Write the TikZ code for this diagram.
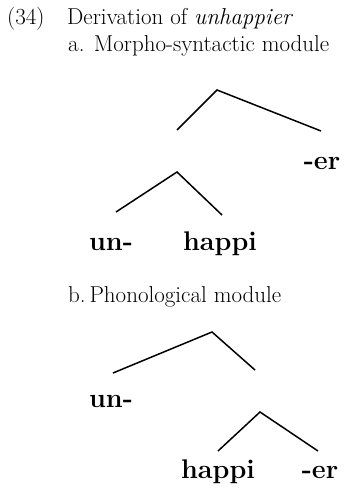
\documentclass[tikz,border=0pt]{standalone}
\begin{document}
\begin{tikzpicture}[x=1pt,y=-1pt,
  txt/.style={anchor=base west,inner sep=0pt,font=\fontsize{23}{25}\selectfont},
  lab/.style={anchor=base,inner sep=0pt,font=\fontsize{27}{29}\selectfont\bfseries},
  br/.style={line width=1.5pt}]
\useasboundingbox (0,0) rectangle (347,497);
\node[txt] (num) at (7,25) {(34)};
\node[txt] (title) at (67,25) {Derivation of \textit{unhappier}};
\node[txt] (ha) at (68,52) {a. Morpho-syntactic module};
% tree a
\coordinate (a0) at (217,90);
\coordinate (a1) at (177,130);
\coordinate (a2) at (321,131);
\draw[br] (a1) -- (a0) -- (a2);
\node[lab] (er1) at (322,169) {-er};
\coordinate (b0) at (177,172);
\coordinate (b1) at (116,212);
\coordinate (b2) at (222,215);
\draw[br] (b1) -- (b0) -- (b2);
\node[lab] (un1) at (111,250) {un-};
\node[lab] (happi1) at (220,250) {happi};
% b
\node[txt] (hb) at (68,302) {b.\,Phonological module};
\coordinate (c0) at (212,332);
\coordinate (c1) at (113,373);
\coordinate (c2) at (255,370);
\draw[br] (c1) -- (c0) -- (c2);
\node[lab] (un2) at (111,407) {un-};
\coordinate (d0) at (260,412);
\coordinate (d1) at (218,451);
\coordinate (d2) at (318,451);
\draw[br] (d1) -- (d0) -- (d2);
\node[lab] (happi2) at (218,478) {happi};
\node[lab] (er2) at (320,478) {-er};
\end{tikzpicture}
\end{document}
